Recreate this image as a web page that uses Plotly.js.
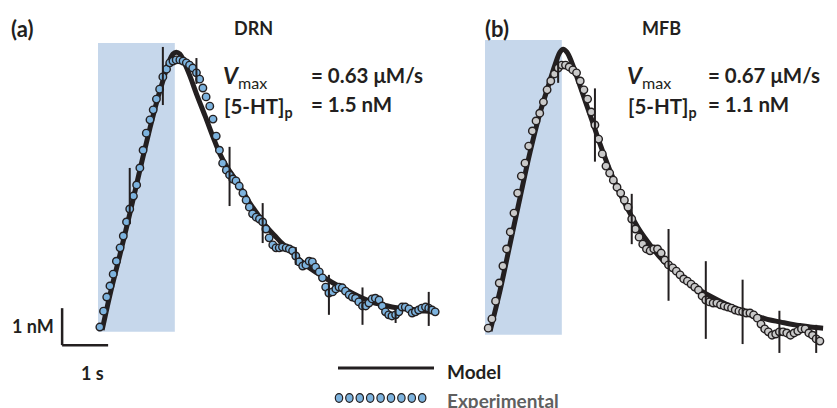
<!DOCTYPE html>
<html><head><meta charset="utf-8">
<script src="https://cdn.plot.ly/plotly-3.0.1.min.js"></script>
<style>html,body{margin:0;padding:0;background:#fff}#chart{width:837px;height:408px}</style>
</head><body><div id="chart"></div>
<script>
// ---- Panel (a) DRN : experimental (time s, concentration nM)
const tA = [0.04,0.12,0.19,0.26,0.33,0.40,0.48,0.55,0.62,0.69,
            0.77,0.84,0.91,0.98,1.05,1.13,1.20,1.27,1.34,1.41,
            1.49,1.56,1.63,1.70,1.78,1.85,1.92,1.99,2.06,2.14,
            2.21,2.28,2.35,2.43,2.50,2.57,2.64,2.71,2.79,2.86,
            2.93,3.00,3.07,3.15,3.22,3.29,3.36,3.44,3.51,3.58,
            3.65,3.72,3.80,3.87,3.94,4.01,4.09,4.16,4.23,4.30,
            4.37,4.45,4.52,4.59,4.66,4.73,4.81,4.88,4.95,5.02,
            5.10,5.17,5.24,5.31,5.38,5.46,5.53,5.60,5.67,5.75,
            5.82,5.89,5.96,6.03,6.11,6.18,6.25,6.32,6.39,6.47,
            6.54,6.61,6.68,6.76,6.83,6.90,6.97,7.04,7.12,7.19,
            7.26,7.33];
const cA = [0.08,0.51,0.89,1.19,1.51,1.86,2.22,2.54,2.92,3.27,
            3.62,3.92,4.38,4.86,5.32,5.68,5.95,6.24,6.51,6.84,
            7.05,7.22,7.27,7.30,7.30,7.27,7.22,7.16,7.08,6.95,
            6.78,6.54,6.30,6.05,5.70,5.24,4.86,4.51,4.32,4.19,
            4.08,4.03,3.89,3.70,3.51,3.32,3.14,3.05,3.00,2.92,
            2.73,2.49,2.30,2.22,2.22,2.24,2.22,2.19,2.14,2.00,
            1.84,1.73,1.76,1.86,1.84,1.70,1.57,1.41,1.16,1.00,
            1.03,1.11,1.16,1.14,1.05,0.95,0.89,0.86,0.76,0.65,
            0.65,0.73,0.84,0.86,0.81,0.65,0.49,0.41,0.38,0.41,
            0.49,0.62,0.62,0.57,0.46,0.49,0.54,0.59,0.62,0.59,
            0.54,0.49];
const errIdxA   = [9,19,29,39,49,59,69,79,89,99];
const errPlusA  = [1.11,0.81,0.40,0.76,0.51,0.24,0.49,0.50,0.22,0.44];
const errMinusA = [0.41,0.76,0.30,0.84,0.57,0.24,0.59,0.51,0.22,0.48];
// model (a)
const mtA = [0.09,0.26,0.48,0.70,0.91,1.13,1.30,1.43,1.54,1.63,1.70,1.78,1.89,2.00,2.15,2.33,2.50,2.65,2.80,2.98,
             3.13,3.30,3.48,3.67,3.85,4.02,4.22,4.39,4.57,4.76,4.93,5.11,5.30,5.48,5.65,5.85,6.02,6.20,6.39,6.57,
             6.74,6.93,7.11,7.30];
const mcA = [0.00,0.95,2.05,3.19,4.32,5.46,6.27,6.81,7.24,7.46,7.51,7.46,7.19,6.86,6.35,5.78,5.22,4.76,4.41,4.08,
             3.78,3.43,3.11,2.78,2.54,2.32,2.11,1.89,1.70,1.54,1.41,1.27,1.14,1.03,0.92,0.81,0.73,0.68,0.62,0.59,
             0.57,0.54,0.51,0.49];

// ---- Panel (b) MFB : experimental
const tB = [0.07,0.15,0.23,0.31,0.39,0.47,0.55,0.63,0.71,0.79,
            0.87,0.95,1.03,1.11,1.19,1.27,1.35,1.43,1.51,1.59,
            1.67,1.75,1.83,1.91,1.99,2.07,2.15,2.23,2.31,2.39,
            2.47,2.55,2.63,2.71,2.79,2.87,2.95,3.03,3.11,3.19,
            3.27,3.35,3.43,3.51,3.59,3.67,3.75,3.83,3.91,3.99,
            4.08,4.16,4.24,4.32,4.40,4.48,4.56,4.64,4.72,4.80,
            4.88,4.96,5.04,5.12,5.20,5.28,5.36,5.44,5.52,5.60,
            5.68,5.76,5.84,5.92,6.00,6.08,6.16,6.24,6.32,6.40,
            6.48,6.56,6.64,6.72,6.80,6.88,6.96,7.04,7.12,7.20,
            7.28];
const cB = [0.05,0.30,0.78,1.27,1.73,2.19,2.65,3.16,3.70,4.16,
            4.51,4.97,5.38,5.65,5.86,6.16,6.49,6.73,6.92,7.08,
            7.16,7.16,7.11,7.03,6.95,6.73,6.49,6.24,5.89,5.54,
            5.16,4.76,4.43,4.24,4.05,3.86,3.70,3.51,3.32,3.00,
            2.73,2.51,2.32,2.19,2.14,2.19,2.19,2.08,1.89,1.76,
            1.68,1.59,1.49,1.38,1.32,1.24,1.16,1.08,0.92,0.81,
            0.76,0.73,0.73,0.68,0.65,0.62,0.59,0.54,0.51,0.49,
            0.46,0.46,0.41,0.32,0.16,0.03,-0.05,-0.14,-0.11,-0.05,
            -0.05,-0.08,-0.14,-0.08,-0.03,0.03,0.03,-0.08,-0.14,-0.24,
            -0.30];
const errIdxB   = [19,29,39,49,59,69,79,89];
const errPlusB  = [0.40,0.99,0.68,0.97,1.05,0.87,0.57,0.38];
const errMinusB = [0.40,0.99,0.68,0.97,1.05,0.87,0.57,0.38];
// model (b)
const mtB = [0.11,0.33,0.54,0.76,0.98,1.20,1.37,1.52,1.63,1.70,1.78,1.89,2.02,2.17,2.33,2.50,2.72,2.93,3.15,3.37,
             3.59,3.80,4.02,4.24,4.46,4.67,4.89,5.11,5.33,5.54,5.76,5.98,6.20,6.41,6.63,6.85,7.07,7.35];
const mcB = [-0.03,1.08,2.30,3.57,4.81,5.89,6.57,7.16,7.51,7.59,7.51,7.22,6.76,6.22,5.65,5.03,4.30,3.70,3.16,2.68,
             2.30,1.97,1.70,1.49,1.27,1.08,0.92,0.78,0.65,0.54,0.43,0.35,0.27,0.22,0.16,0.12,0.08,0.05];

// stimulation window (s) and scale bar (1 s, 1 nM)
const stim = [0, 1.67];
const scaleT = [-0.78, 0.22];
const scaleC = [-0.41, 0.59];

const W = 837, H = 408;
const ink = '#231f20';
const px = v => v / W, py = v => 1 - v / H;
const pick = (arr, idx) => idx.map(i => arr[i]);

const traces = [
  {x: mtA, y: mcA, xaxis: 'x', yaxis: 'y', mode: 'lines', line: {color: ink, width: 5, shape: 'spline'}, hoverinfo: 'skip'},
  {x: tA, y: cA, xaxis: 'x', yaxis: 'y', mode: 'markers',
   marker: {size: 7.5, color: '#7db3de', line: {color: ink, width: 1.4}}},
  {x: pick(tA, errIdxA), y: pick(cA, errIdxA), xaxis: 'x', yaxis: 'y', mode: 'markers',
   marker: {size: 1, color: 'rgba(0,0,0,0)'},
   error_y: {type: 'data', symmetric: false, array: errPlusA, arrayminus: errMinusA, visible: true, width: 0, thickness: 2, color: ink}},
  {x: mtB, y: mcB, xaxis: 'x2', yaxis: 'y', mode: 'lines', line: {color: ink, width: 5, shape: 'spline'}, hoverinfo: 'skip'},
  {x: tB, y: cB, xaxis: 'x2', yaxis: 'y', mode: 'markers',
   marker: {size: 7.5, color: '#c9c9c9', line: {color: ink, width: 1.4}}},
  {x: pick(tB, errIdxB), y: pick(cB, errIdxB), xaxis: 'x2', yaxis: 'y', mode: 'markers',
   marker: {size: 1, color: 'rgba(0,0,0,0)'},
   error_y: {type: 'data', symmetric: false, array: errPlusB, arrayminus: errMinusB, visible: true, width: 0, thickness: 2, color: ink}}
];

const shapes = [
  {type: 'rect', xref: 'x', yref: 'y', x0: stim[0], x1: stim[1], y0: -0.05, y1: 7.76, fillcolor: '#c6d7eb', line: {width: 0}, layer: 'below'},
  {type: 'rect', xref: 'x2', yref: 'y', x0: stim[0], x1: stim[1], y0: -0.13, y1: 7.84, fillcolor: '#c6d7eb', line: {width: 0}, layer: 'below'},
  {type: 'line', xref: 'x', yref: 'y', x0: scaleT[0], x1: scaleT[0], y0: scaleC[0], y1: scaleC[1], line: {color: ink, width: 2.5}},
  {type: 'line', xref: 'x', yref: 'y', x0: scaleT[0], x1: scaleT[1], y0: scaleC[0], y1: scaleC[0], line: {color: ink, width: 2.5}},
  // legend line
  {type: 'line', xref: 'paper', yref: 'paper', x0: px(338), x1: px(434), y0: py(368), y1: py(368), line: {color: ink, width: 3}}
];
for (let k = 0; k < 9; k++) {
  const cx = 339 + k * 10.4;
  shapes.push({type: 'circle', xref: 'paper', yref: 'paper', x0: px(cx - 3.7), x1: px(cx + 3.7), y0: py(398 + 4.3), y1: py(398 - 4.3),
               fillcolor: '#7db3de', line: {color: ink, width: 1.2}});
}

const F = 'Lato, Open Sans, sans-serif';
const ann = (text, x, y, size, xanchor, color) => ({
  text, xref: 'paper', yref: 'paper', x: px(x), y: py(y), xanchor: xanchor || 'left', yanchor: 'middle',
  showarrow: false, font: {family: F, size: size, color: color || ink}});

const annotations = [
  ann('<b>(a)</b>', 9, 29, 22),
  ann('<b>DRN</b>', 253, 28, 18, 'center'),
  ann('<b>(b)</b>', 483, 29, 22),
  ann('<b>MFB</b>', 661, 28, 18, 'center'),
  ann('<b><i>V</i></b><sub>max</sub>', 221, 76, 23),
  ann('<b>= 0.63 μM/s</b>', 309, 75, 20.5),
  ann('<b>[5-HT]</b><sub><b>p</b></sub>', 222, 108, 20.5),
  ann('<b>= 1.5 nM</b>', 309, 104, 20.5),
  ann('<b><i>V</i></b><sub>max</sub>', 625, 76, 23),
  ann('<b>= 0.67 μM/s</b>', 706, 75, 20.5),
  ann('<b>[5-HT]</b><sub><b>p</b></sub>', 626, 108, 20.5),
  ann('<b>= 1.1 nM</b>', 706, 104, 20.5),
  ann('<b>1 nM</b>', 56, 326, 18, 'right'),
  ann('<b>1 s</b>', 92, 373, 18, 'center'),
  ann('<b>Model</b>', 445, 371, 19),
  ann('<b>Experimental</b>', 445, 400, 19, 'left', '#5f5f5f')
];

const layout = {
  width: W, height: H, margin: {l: 0, r: 0, t: 0, b: 0},
  paper_bgcolor: '#fff', plot_bgcolor: 'rgba(0,0,0,0)', showlegend: false,
  xaxis: {range: [-98 / 46, 739 / 46], visible: false, fixedrange: true},
  xaxis2: {range: [-485 / 46, 352 / 46], visible: false, overlaying: 'x', fixedrange: true},
  yaxis: {range: [-78 / 37, 330 / 37], visible: false, fixedrange: true},
  shapes, annotations
};
Plotly.newPlot('chart', traces, layout, {displayModeBar: false, staticPlot: true});
</script></body></html>
